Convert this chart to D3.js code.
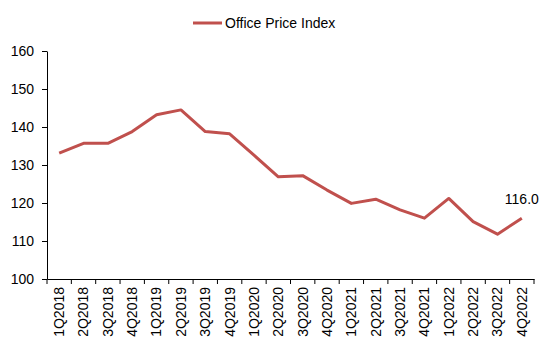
<!DOCTYPE html>
<html>
<head>
<meta charset="utf-8">
<script src="https://cdn.jsdelivr.net/npm/d3@7"></script>
<style>
  body { margin: 0; background: #fff; }
  text { font-family: "Liberation Sans", Arial, sans-serif; }
</style>
</head>
<body>
<svg id="chart"></svg>
<script>
// data
const quarters = ["1Q2018", "2Q2018", "3Q2018", "4Q2018", "1Q2019", "2Q2019", "3Q2019", "4Q2019",
  "1Q2020", "2Q2020", "3Q2020", "4Q2020", "1Q2021", "2Q2021", "3Q2021", "4Q2021",
  "1Q2022", "2Q2022", "3Q2022", "4Q2022"];
const officePriceIndex = [133.1, 135.7, 135.7, 138.8, 143.2, 144.5, 138.8, 138.2,
  132.6, 126.9, 127.2, 123.4, 119.9, 121.0, 118.2, 116.0,
  121.2, 115.1, 111.8, 116.0];
const yTicks = [100, 110, 120, 130, 140, 150, 160];
const seriesName = "Office Price Index";

const margin = {top: 51, right: 16, bottom: 71, left: 47};
const width = 550 - margin.left - margin.right;
const height = 350 - margin.top - margin.bottom;
const lineColor = "#c0504d";

const root = d3.select("#chart")
    .attr("width", 550)
    .attr("height", 350);

const g = root.append("g")
    .attr("transform", "translate(" + margin.left + "," + margin.top + ")");

const x = d3.scaleBand()
    .domain(quarters)
    .range([0, width]);

const y = d3.scaleLinear()
    .domain([100, 160])
    .range([height, 0]);

// Y axis
const yAxis = g.append("g")
    .call(d3.axisLeft(y).tickValues(yTicks).tickSize(5).tickSizeOuter(0).tickPadding(8));
yAxis.selectAll("text").style("font-size", "14px").attr("fill", "#000");
yAxis.selectAll("line, path").attr("stroke", "#000");

// X axis (labels only, ticks drawn at band edges)
const xAxis = g.append("g")
    .attr("transform", "translate(0," + height + ")")
    .call(d3.axisBottom(x).tickSize(0).tickSizeOuter(0).tickPadding(0));
xAxis.select("path").attr("stroke", "#000");
xAxis.selectAll("text")
    .style("font-size", "14px")
    .attr("fill", "#000")
    .attr("transform", "rotate(-90)")
    .attr("text-anchor", "end")
    .attr("dy", "0.35em")
    .attr("x", -8)
    .attr("y", 0);

const edges = quarters.map(d => x(d)).concat([width]);
xAxis.selectAll(".edge")
    .data(edges)
    .enter()
    .append("line")
    .attr("x1", d => d)
    .attr("x2", d => d)
    .attr("y1", 0)
    .attr("y2", 5)
    .attr("stroke", "#000");

// line
const line = d3.line()
    .x((d, i) => x(quarters[i]) + x.bandwidth() / 2)
    .y(d => y(d));

g.append("path")
    .datum(officePriceIndex)
    .attr("d", line)
    .attr("fill", "none")
    .attr("stroke", lineColor)
    .attr("stroke-width", 3)
    .attr("stroke-linejoin", "round");

// last value label
const lastIdx = officePriceIndex.length - 1;
g.append("text")
    .attr("x", x(quarters[lastIdx]) + x.bandwidth() / 2)
    .attr("y", y(officePriceIndex[lastIdx]) - 14)
    .attr("text-anchor", "middle")
    .style("font-size", "14px")
    .text(officePriceIndex[lastIdx].toFixed(1));

// legend
const legend = root.append("g")
    .attr("transform", "translate(193,23)");
legend.append("line")
    .attr("x1", 0)
    .attr("x2", 29)
    .attr("stroke", lineColor)
    .attr("stroke-width", 3);
legend.append("text")
    .attr("x", 32)
    .attr("dy", "0.35em")
    .style("font-size", "14px")
    .text(seriesName);
</script>
</body>
</html>
